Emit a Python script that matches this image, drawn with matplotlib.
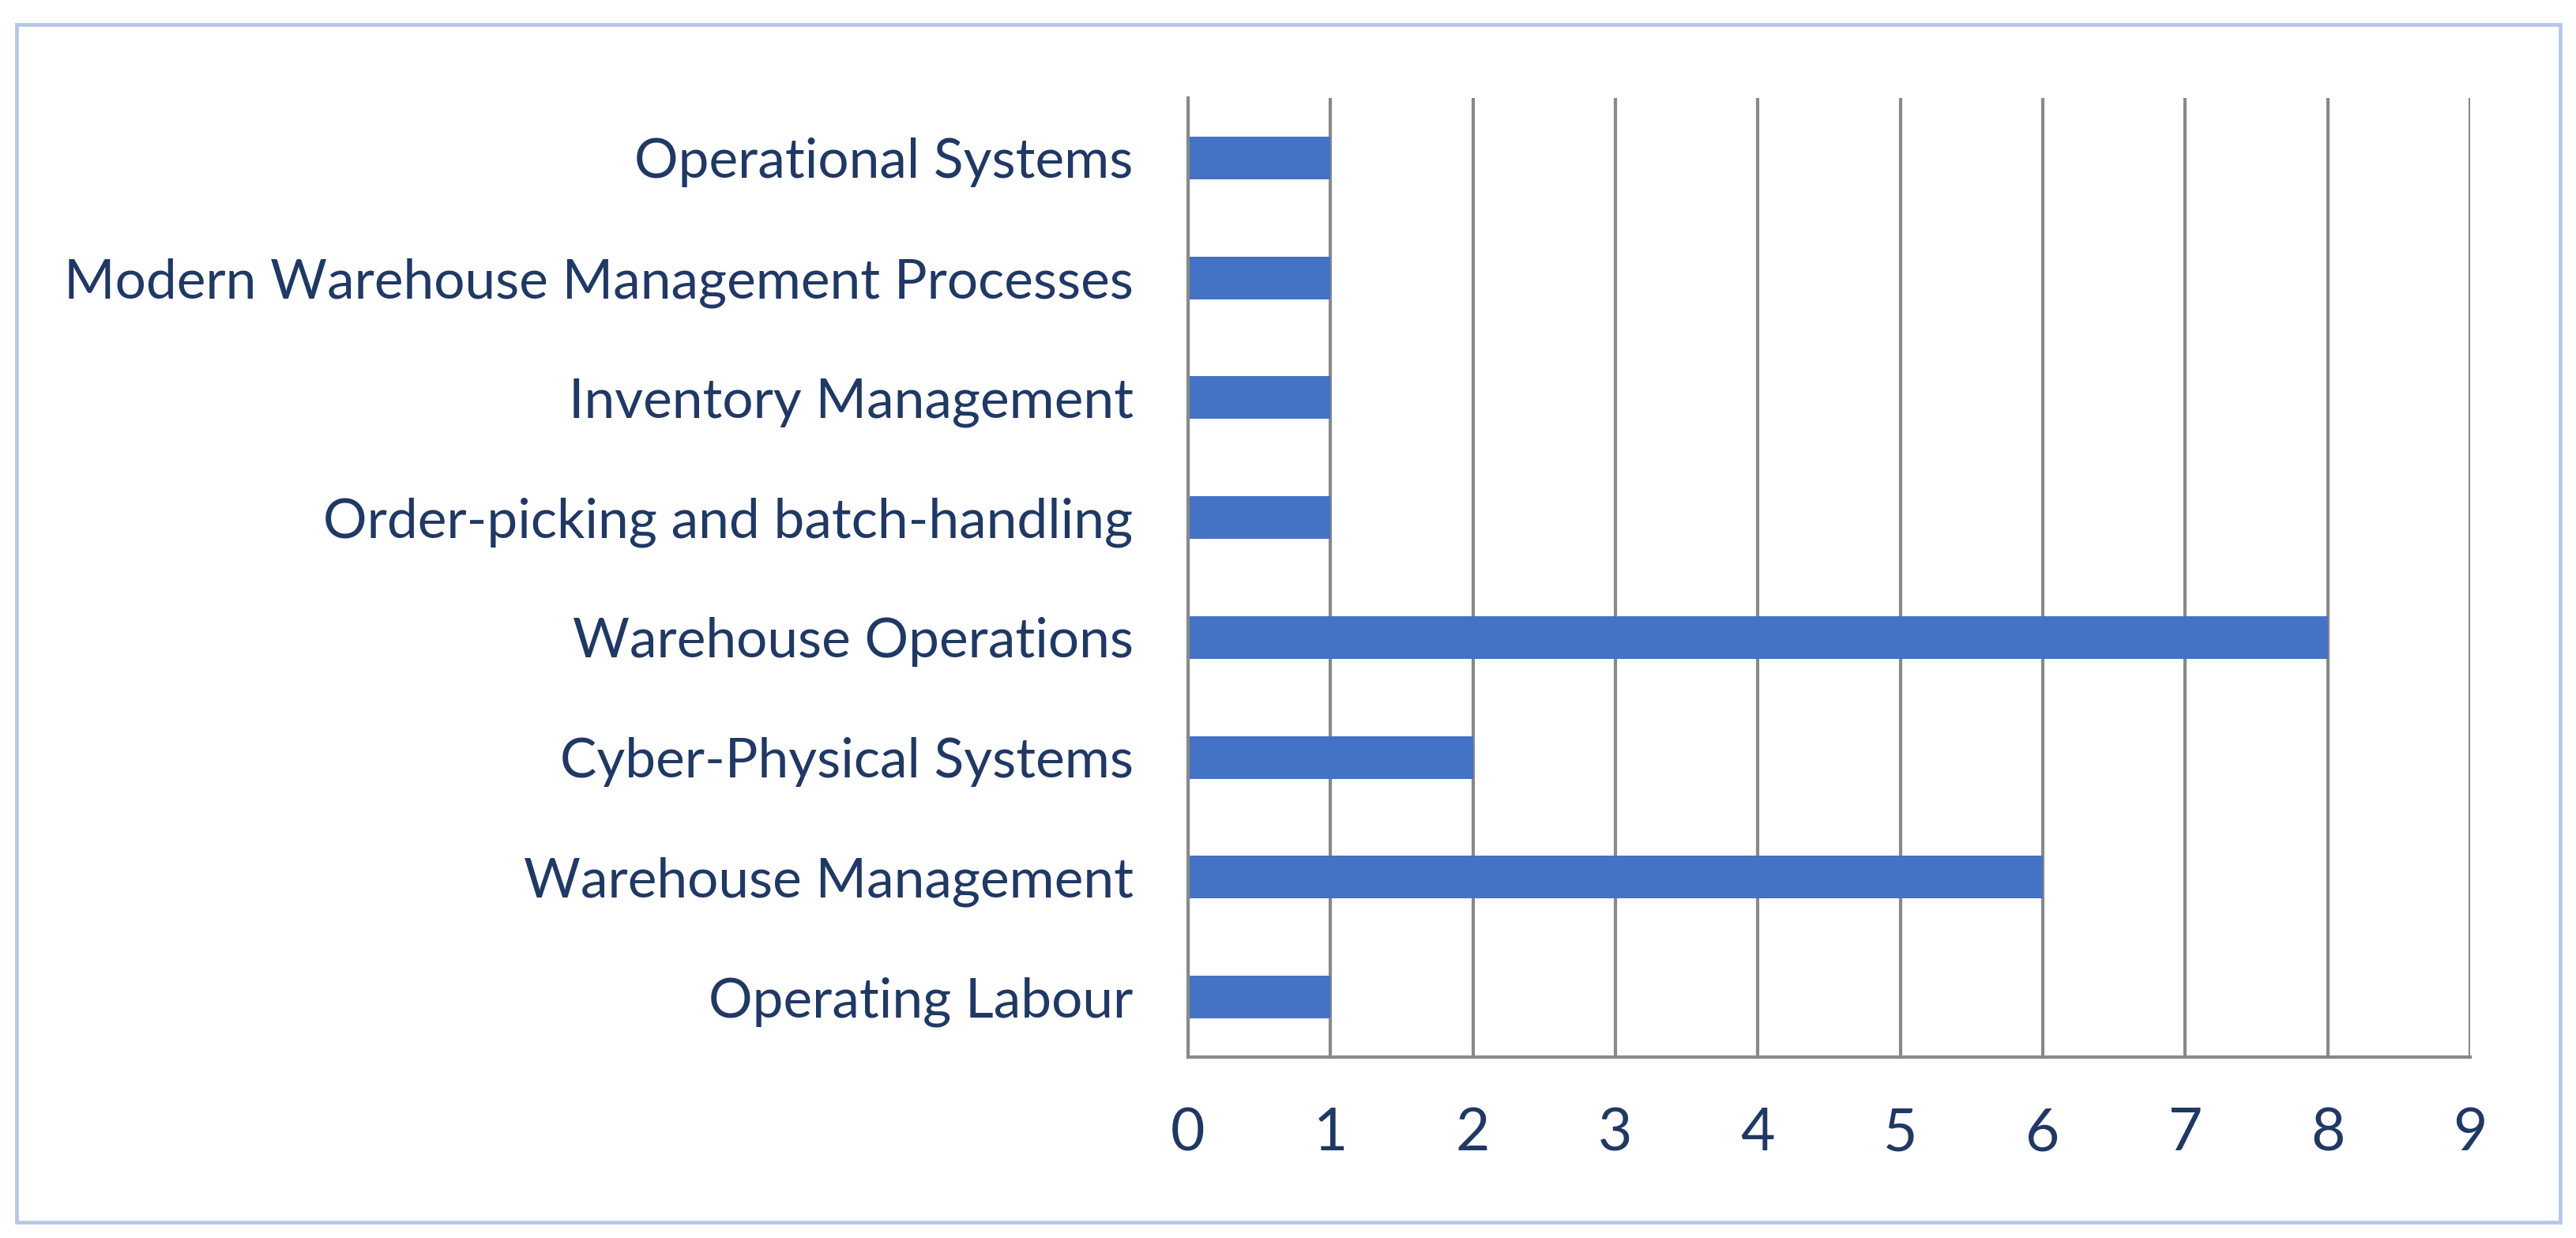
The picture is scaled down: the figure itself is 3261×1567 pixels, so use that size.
import matplotlib
matplotlib.use("Agg")
import matplotlib.pyplot as plt
from matplotlib.patches import Rectangle

categories = [
    "Operating Labour",
    "Warehouse Management",
    "Cyber-Physical Systems",
    "Warehouse Operations",
    "Order-picking and batch-handling",
    "Inventory Management",
    "Modern Warehouse Management Processes",
    "Operational Systems",
]
values = [1, 6, 2, 8, 1, 1, 1, 1]
xticks = [0, 1, 2, 3, 4, 5, 6, 7, 8, 9]

W, H = 3262, 1567
DPI = 100
fig = plt.figure(figsize=(W / DPI, H / DPI), dpi=DPI)
fig.patch.set_facecolor("white")

# outer border
fig.patches.append(Rectangle((21 / W, 1 - 1547 / H), (3241 - 21) / W, (1547 - 31) / H,
                             transform=fig.transFigure, fill=False,
                             edgecolor="#B4C7E7", linewidth=3.4))

ax = fig.add_axes([1504 / W, 1 - 1338 / H, (3127 - 1504) / W, (1338 - 124) / H])
text_color = "#203864"
grid_color = "#898989"

ypos = list(range(len(categories)))
ax.barh(ypos, values, height=0.355, color="#4472C4", zorder=2)
ax.set_xlim(0, 9)
ax.set_ylim(-0.5, len(categories) - 0.5)
ax.set_xticks(xticks)
ax.set_xticklabels([str(t) for t in xticks])
ax.set_yticks(ypos)
ax.set_yticklabels(categories)

ax.set_axisbelow(True)
ax.xaxis.grid(True, color=grid_color, linewidth=3.0)
ax.yaxis.grid(False)
for s in ["top", "right"]:
    ax.spines[s].set_visible(False)
for s in ["left", "bottom"]:
    ax.spines[s].set_color(grid_color)
    ax.spines[s].set_linewidth(3.0)
    ax.spines[s].set_zorder(3)

ax.tick_params(axis="both", length=0)
ax.tick_params(axis="y", pad=50, labelsize=50, labelcolor=text_color)
ax.tick_params(axis="x", pad=45, labelsize=54, labelcolor=text_color)
for lab in ax.get_xticklabels() + ax.get_yticklabels():
    lab.set_fontfamily("Lato")

fig.savefig("out.png", dpi=DPI, facecolor="white")
